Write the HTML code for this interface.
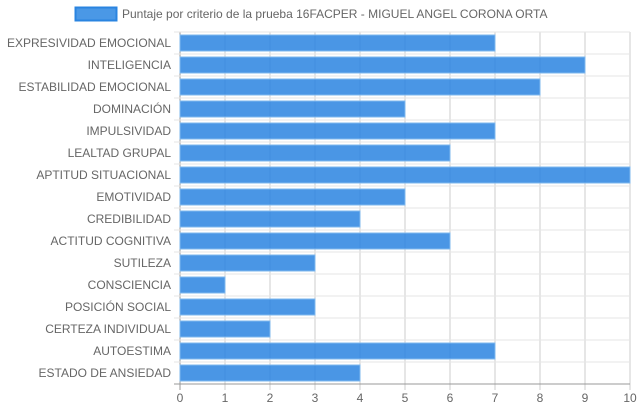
<!DOCTYPE html>
<html><head><meta charset="utf-8"><style>
body{margin:0;background:#fff;font-family:"Liberation Sans",Arial,sans-serif;}
svg text{font-family:"Liberation Sans",Arial,sans-serif;}
</style></head><body>
<svg id="c" width="639" height="411">
<g>
<rect x="75.5" y="7.5" width="41" height="13" fill="#4a98e6" stroke="#2a84e0" stroke-width="2"/>
<text x="122" y="18" font-size="12" fill="#666">Puntaje por criterio de la prueba 16FACPER - MIGUEL ANGEL CORONA ORTA</text>
</g>
<g id="grid"></g><g id="bars"></g><g id="labels"></g>
</svg>
<script>
const categories=["EXPRESIVIDAD EMOCIONAL","INTELIGENCIA","ESTABILIDAD EMOCIONAL","DOMINACIÓN","IMPULSIVIDAD","LEALTAD GRUPAL","APTITUD SITUACIONAL","EMOTIVIDAD","CREDIBILIDAD","ACTITUD COGNITIVA","SUTILEZA","CONSCIENCIA","POSICIÓN SOCIAL","CERTEZA INDIVIDUAL","AUTOESTIMA","ESTADO DE ANSIEDAD"];
const values=[7,9,8,5,7,6,10,5,4,6,3,1,3,2,7,4];
const xTicks=[0,1,2,3,4,5,6,7,8,9,10];
const L=180,R=630,T=32,B=384,NS="http://www.w3.org/2000/svg";
const x=v=>L+(v-0)/(10-0)*(R-L);
const band=(B-T)/categories.length;
const y=i=>T+i*band;
function mk(tag,a,p){const e=document.createElementNS(NS,tag);for(const k in a)e.setAttribute(k,a[k]);p.appendChild(e);return e;}
const g=document.getElementById('grid'),b=document.getElementById('bars'),lb=document.getElementById('labels');
xTicks.forEach(t=>{
 const l=mk('line',{x1:x(t),x2:x(t),y1:T,y2:B+6,stroke:t===0?'#999':'#ccc','stroke-width':1},g);
 
 
 const tx=mk('text',{x:x(t),y:402,'font-size':12,fill:'#666','text-anchor':'middle'},lb);
 tx.textContent=t;
 
 
});
for(let i=0;i<=categories.length;i++){
 const l=mk('line',{x1:L-6,x2:R,y1:y(i),y2:y(i),stroke:i===categories.length?'#999':'#e6e6e6','stroke-width':1},g);
 
 
}
categories.forEach((c,i)=>{
 const r=mk('rect',{x:L,y:y(i)+3,width:x(values[i])-L,height:band-6,fill:'rgba(42,132,224,0.85)',stroke:'#7fb8ee','stroke-width':1},b);
 
 
 const t=mk('text',{x:L-9,y:y(i)+band/2+4,'font-size':12,fill:'#666','text-anchor':'end'},lb);
 t.textContent=c;
 
 
});
</script>
</body></html>
